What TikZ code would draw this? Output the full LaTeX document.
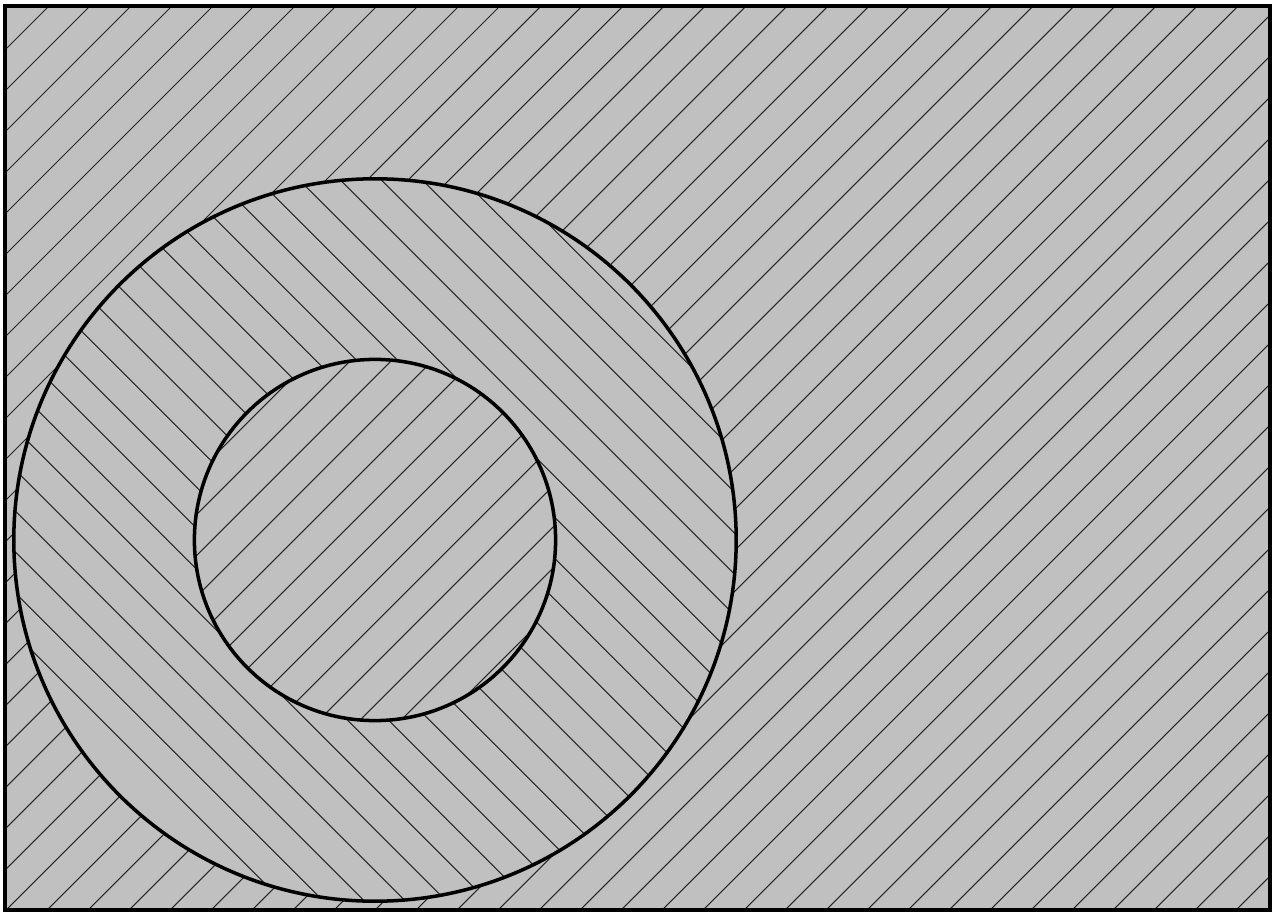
\documentclass[tikz,border=0pt]{standalone}
\definecolor{fillgray}{RGB}{192,192,192}
\tikzset{
  hatch/.style={line width=0.3pt, black!85},
  frame/.style={line width=1.1pt},
  ring/.style={line width=1pt}
}
\begin{document}
\begin{tikzpicture}[x=0.01cm,y=-0.01cm]
\useasboundingbox (0,0) rectangle (1275,915);
\coordinate (c) at (375,540);
% background
\fill[fillgray] (5,6) rectangle (1270,910);
\begin{scope}
  \clip (5,6) rectangle (1270,910);
  \foreach \k in {0,...,56} \draw[hatch] ({14+41*\k},0) -- ({14+41*\k-1000},1000);
\end{scope}
% big circle (annulus) with opposite hatching
\fill[fillgray] (c) circle[radius=3.61cm];
\begin{scope}
  \clip (c) circle[radius=3.61cm];
  \foreach \k in {-16,...,15} \draw[hatch] ({37.4+41*\k},0) -- ({37.4+41*\k+1000},1000);
\end{scope}
% inner circle
\fill[fillgray] (c) circle[radius=1.805cm];
\begin{scope}
  \clip (c) circle[radius=1.805cm];
  \foreach \k in {10,...,30} \draw[hatch] ({14+41*\k},0) -- ({14+41*\k-1000},1000);
\end{scope}
\draw[ring] (c) circle[radius=3.61cm];
\draw[ring] (c) circle[radius=1.805cm];
\draw[frame] (5,6) rectangle (1270,910);
\end{tikzpicture}
\end{document}
